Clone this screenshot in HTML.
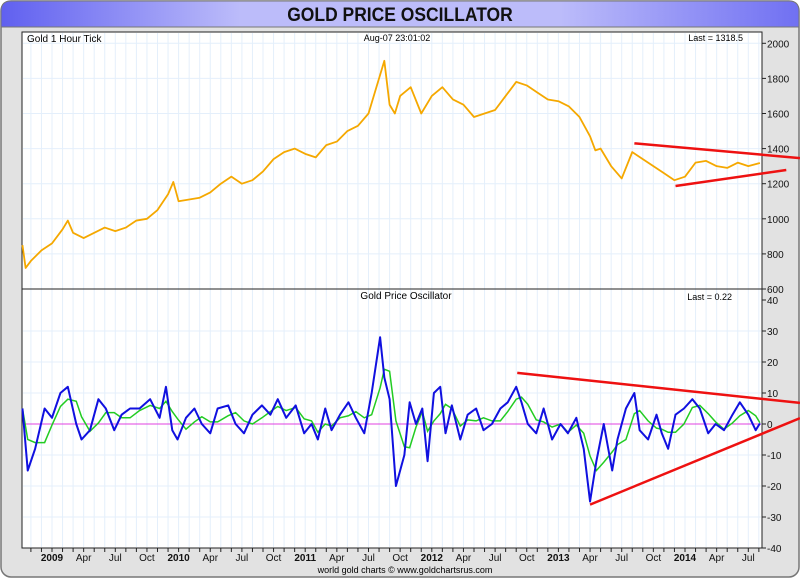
<!DOCTYPE html>
<html><head><meta charset="utf-8">
<style>
html,body{margin:0;padding:0;background:#fff;}
body{width:800px;height:578px;overflow:hidden;font-family:"Liberation Sans",sans-serif;}
</style></head>
<body>
<svg id="chart" width="800" height="578" viewBox="0 0 800 578" xmlns="http://www.w3.org/2000/svg">
<defs>
<linearGradient id="tg" x1="0" x2="1" y1="0" y2="0">
<stop offset="0" stop-color="#6060f0"/><stop offset="0.3" stop-color="#bcbcfa"/><stop offset="0.7" stop-color="#bcbcfa"/><stop offset="1" stop-color="#7070f2"/>
</linearGradient>
</defs>
<rect x="1" y="1" width="798" height="576" rx="10" fill="#e2e2e2" stroke="#777" stroke-width="1.5"/>
<path d="M1,27 L1,11 Q1,1 11,1 L789,1 Q799,1 799,11 L799,27 Z" fill="url(#tg)" stroke="#777"/>
<text x="400" y="21" text-anchor="middle" font-size="19" font-weight="bold" fill="#111" transform="translate(400 0) scale(0.92 1) translate(-400 0)">GOLD PRICE OSCILLATOR</text>
<rect x="22" y="32" width="740" height="516" fill="#fff" stroke="#222"/>
<g id="grid"></g>
<line x1="22" y1="289" x2="762" y2="289" stroke="#222"/>
<g id="marks"></g>
<g id="axes"></g>
<text x="27" y="42" font-size="10">Gold 1 Hour Tick</text>
<text x="397" y="41" font-size="9" text-anchor="middle">Aug-07  23:01:02</text>
<text x="743" y="41" font-size="9" text-anchor="end">Last = 1318.5</text>
<text x="406" y="299" font-size="10" text-anchor="middle">Gold Price Oscillator</text>
<text x="732" y="300" font-size="9" text-anchor="end">Last = 0.22</text>
<text x="405" y="573" font-size="9" text-anchor="middle">world gold charts © www.goldchartsrus.com</text>
</svg>
<script>
// time in months since Jan 2009
const goldMonths=[-2.8,-2.5,-2,-1,0,1,1.5,2,3,4,5,6,7,8,9,10,11,11.5,12,13,14,15,16,17,18,19,20,21,22,23,24,25,26,27,28,29,30,31,31.5,32,32.5,33,34,35,36,37,38,39,40,41,42,43,44,45,46,47,48,49,50,51,51.5,52,53,54,55,56,57,58,59,60,61,62,63,64,65,66,67.1];
const goldPrices=[850,720,760,820,860,940,990,920,890,920,950,930,950,990,1000,1050,1140,1210,1100,1110,1120,1150,1200,1240,1200,1220,1270,1340,1380,1400,1370,1350,1420,1440,1500,1530,1600,1800,1900,1650,1600,1700,1750,1600,1700,1750,1680,1650,1580,1600,1620,1700,1780,1760,1720,1680,1670,1640,1580,1470,1390,1400,1300,1230,1380,1340,1300,1260,1220,1240,1320,1330,1300,1290,1320,1300,1318];
const oscMonths=[-2.8,-2.3,-1.6,-0.7,0,0.8,1.5,2.3,2.8,3.6,4.4,5.1,5.9,6.6,7.4,8.3,9.3,10.2,10.8,11.4,11.9,12.7,13.5,14.2,15.0,15.7,16.7,17.4,18.2,19.0,19.9,20.7,21.4,22.2,23.1,23.9,24.6,25.2,25.9,26.5,27.3,28.1,28.8,29.6,30.3,31.1,31.5,32.0,32.6,33.4,33.9,34.5,35.1,35.6,36.2,36.8,37.3,37.9,38.7,39.4,40.2,40.9,41.7,42.5,43.2,44.0,44.5,45.1,45.9,46.6,47.4,48.2,48.9,49.7,50.4,51.0,51.6,52.3,53.1,53.6,54.4,55.2,55.7,56.5,57.3,57.8,58.4,59.1,59.9,60.7,61.4,62.2,62.9,63.7,64.5,65.2,66.0,66.7,67.1];
const oscValues=[5,-15,-8,5,2,10,12,0,-5,-2,8,5,-2,3,5,5,8,2,12,-2,-5,2,5,0,-3,5,6,0,-3,3,6,3,8,2,6,-3,0,-5,5,-2,3,7,2,-3,10,28,15,8,-20,-10,7,0,5,-12,10,12,-3,6,-5,3,5,-2,0,5,7,12,7,0,-3,5,-5,0,-3,2,-8,-25,-12,0,-15,-5,5,10,-2,-5,3,-3,-8,3,5,8,5,-3,0,-2,3,7,3,-2,0.2];
const priceTicks=[600,800,1000,1200,1400,1600,1800,2000];
const oscTicks=[-40,-30,-20,-10,0,10,20,30,40];
const xTickLabels=["2009","Apr","Jul","Oct","2010","Apr","Jul","Oct","2011","Apr","Jul","Oct","2012","Apr","Jul","Oct","2013","Apr","Jul","Oct","2014","Apr","Jul"];
const priceTrend1=[[55.2,1430],[70.9,1346]];
const priceTrend2=[[59.1,1187],[69.6,1278]];
const oscTrend1=[[44.1,16.5],[70.9,6.8]];
const oscTrend2=[[51.0,-26],[70.9,1.9]];

const NS="http://www.w3.org/2000/svg";
const xS=m=>52+m*10.55;
const yP=v=>289-(v-600)/200*35.1;
const yO=v=>424-v*3.1;
function mk(tag,attrs,parent){const e=document.createElementNS(NS,tag);for(const k in attrs)e.setAttribute(k,attrs[k]);parent.appendChild(e);return e;}
const grid=document.getElementById('grid'),marks=document.getElementById('marks'),axes=document.getElementById('axes');

for(let m=-2;m<=67;m++){const x=xS(m);
 const l=mk('line',{x1:x,y1:33,x2:x,y2:547,stroke:'#e4effb','stroke-width':1},grid);
 
 
 const t=mk('line',{x1:x,y1:548,x2:x,y2:552,stroke:'#222'},axes);
 
 
}
xTickLabels.forEach((s,i)=>{const bold=/^\d/.test(s);
 const t=mk('text',{x:xS(i*3),y:561,'font-size':10,'text-anchor':'middle','font-weight':bold?'bold':'normal',fill:'#111'},axes);
 t.textContent=s;
 
 
});
priceTicks.forEach(v=>{const y=yP(v);
 if(v>600){const g=mk('line',{x1:23,y1:y,x2:761,y2:y,stroke:'#e4effb'},grid);
 
 }
 const t=mk('line',{x1:762,y1:y,x2:766,y2:y,stroke:'#222'},axes);
 
 
 const l=mk('text',{x:767,y:y+4,'font-size':10,fill:'#111'},axes);l.textContent=v;
 
 
});
oscTicks.forEach(v=>{const y=yO(v);
 if(v>-40&&v<40){const g=mk('line',{x1:23,y1:y,x2:761,y2:y,stroke:'#e4effb'},grid);
 
 }
 const t=mk('line',{x1:762,y1:y,x2:766,y2:y,stroke:'#222'},axes);
 
 
 const l=mk('text',{x:767,y:y+4,'font-size':10,fill:'#111'},axes);l.textContent=v;
 
 
});
const z=mk('line',{x1:23,y1:yO(0),x2:761,y2:yO(0),stroke:'#e040e0','stroke-width':1},marks);



const gp=mk('polyline',{points:goldMonths.map((m,i)=>xS(m)+','+yP(goldPrices[i])).join(' '),fill:'none',stroke:'#f5a800','stroke-width':1.8,'stroke-linejoin':'round'},marks);



const sig=oscValues.map((v,i)=>{let s=0,n=0;for(let k=Math.max(0,i-2);k<=i;k++){s+=oscValues[k];n++;}return s/n;});
const sl=mk('polyline',{points:oscMonths.map((m,i)=>xS(m)+','+yO(sig[i])).join(' '),fill:'none',stroke:'#22cc22','stroke-width':1.5},marks);


const ol=mk('polyline',{points:oscMonths.map((m,i)=>xS(m)+','+yO(oscValues[i])).join(' '),fill:'none',stroke:'#1010e0','stroke-width':2,'stroke-linejoin':'round'},marks);



[[priceTrend1,yP,'price-resistance-trendline'],[priceTrend2,yP,'price-support-trendline'],[oscTrend1,yO,'osc-resistance-trendline'],[oscTrend2,yO,'osc-support-trendline']].forEach(([p,f,name])=>{
 const l=mk('line',{x1:xS(p[0][0]),y1:f(p[0][1]),x2:xS(p[1][0]),y2:f(p[1][1]),stroke:'#ee1111','stroke-width':2.5},marks);
 
 
});
</script>
</body></html>
